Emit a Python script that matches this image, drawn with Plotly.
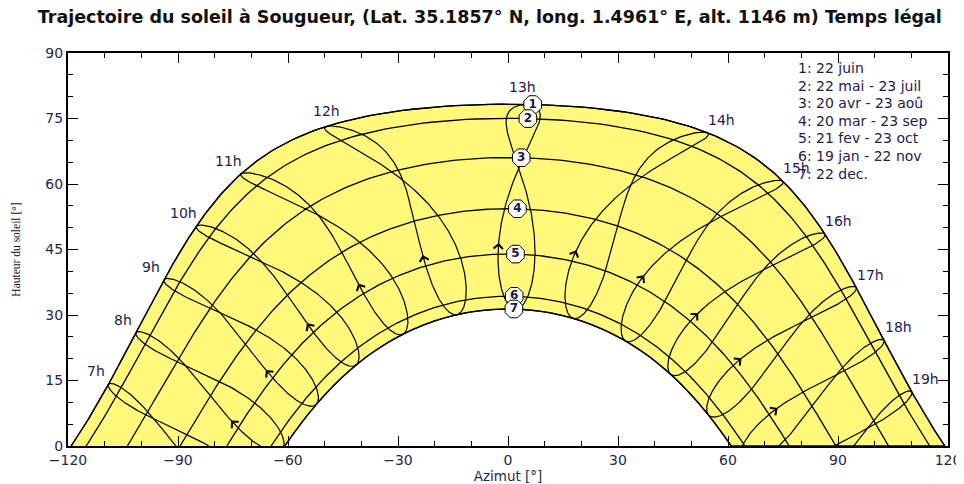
import numpy as np
import plotly.graph_objects as go

# ---- data ----
site_lat = 35.1857
site_lon = 1.4961
timezone = 1
title_text = "Trajectoire du soleil à Sougueur, (Lat. 35.1857° N, long. 1.4961° E, alt. 1146 m) Temps légal"
path_numbers = ["1", "2", "3", "4", "5", "6", "7"]
path_doys = [173, 142, 110, 79, 52, 19, 356]
path_legend = ["1: 22 juin", "2: 22 mai - 23 juil", "3: 20 avr - 23 aoû", "4: 20 mar - 23 sep",
               "5: 21 fev - 23 oct", "6: 19 jan - 22 nov", "7: 22 dec."]
hours = [7, 8, 9, 10, 11, 12, 13, 14, 15, 16, 17, 18, 19]
hour_labels = [f"{h}h" for h in hours]
summer_doy = 173
winter_doy = 356
arrow_doy = 59
marker_hour = 13
x_ticks = [-120, -90, -60, -30, 0, 30, 60, 90, 120]
y_ticks = [0, 15, 30, 45, 60, 75, 90]

phi = np.radians(site_lat)
FONT = "DejaVu Sans, Verdana, Arial"
TXT = "#24204a"


def decl_eot(doy, hr=12.0):
    g = 2 * np.pi / 365 * (np.asarray(doy, float) - 1 + (hr - 12) / 24)
    eot = 229.18 * (0.000075 + 0.001868 * np.cos(g) - 0.032077 * np.sin(g)
                    - 0.014615 * np.cos(2 * g) - 0.040849 * np.sin(2 * g))
    dec = (0.006918 - 0.399912 * np.cos(g) + 0.070257 * np.sin(g) - 0.006758 * np.cos(2 * g)
           + 0.000907 * np.sin(2 * g) - 0.002697 * np.cos(3 * g) + 0.00148 * np.sin(3 * g))
    return dec, eot


def az_alt(dec, ha):
    s = np.sin(phi) * np.sin(dec) + np.cos(phi) * np.cos(dec) * np.cos(ha)
    alt = np.degrees(np.arcsin(np.clip(s, -1, 1)))
    az = np.degrees(np.arctan2(np.sin(ha), np.cos(ha) * np.sin(phi) - np.tan(dec) * np.cos(phi)))
    return az, alt


def sun_at(doy, hr):
    dec, eot = decl_eot(doy, hr)
    tst = hr * 60 + eot + 4 * site_lon - 60 * timezone
    ha = np.radians(tst / 4 - 180)
    return az_alt(dec, ha)


def day_path(doy):
    dec, _ = decl_eot(doy)
    h0 = np.arccos(-np.tan(phi) * np.tan(dec))
    ha = np.linspace(-h0, h0, 300)
    return az_alt(dec, ha)


fig = go.Figure()

# yellow envelope between summer and winter paths
az_s, alt_s = day_path(summer_doy)
az_w, alt_w = day_path(winter_doy)
fig.add_trace(go.Scatter(x=np.concatenate([az_s, az_w[::-1]]), y=np.concatenate([alt_s, alt_w[::-1]]),
                         fill="toself", fillcolor="rgb(255,248,122)", line=dict(color="black", width=1.3),
                         mode="lines", hoverinfo="skip"))

# date paths
for doy in path_doys:
    az, alt = day_path(doy)
    fig.add_trace(go.Scatter(x=az, y=alt, mode="lines", line=dict(color="black", width=1.3), hoverinfo="skip"))

# hour lines (two branches) + arrows
annotations = []
for h in hours:
    dA = np.arange(winter_doy - 365, summer_doy + 1)
    dB = np.arange(summer_doy, winter_doy + 1)
    for d in (dA, dB):
        az, alt = sun_at(d, float(h))
        fig.add_trace(go.Scatter(x=az, y=alt, mode="lines", line=dict(color="black", width=1.2),
                                 hoverinfo="skip"))
    ax0, ay0 = sun_at(arrow_doy - 4, float(h))
    ax1, ay1 = sun_at(arrow_doy, float(h))
    if ay0 > 0.5:
        annotations.append(dict(x=float(ax1), y=float(ay1), ax=float(ax0), ay=float(ay0),
                                xref="x", yref="y", axref="x", ayref="y", text="",
                                showarrow=True, arrowhead=4, arrowsize=2.0, arrowwidth=0.9,
                                arrowcolor="black"))

# hour labels near the summer end of each hour line
for h, lab in zip(hours, hour_labels):
    az, alt = sun_at(summer_doy, float(h))
    if h < 12:
        xs, ys = -13, 13
    elif h == 12:
        xs, ys = 0, 15
    elif h == 13:
        xs, ys = -4, 17
    else:
        xs, ys = 14, 13
    annotations.append(dict(x=float(az), y=float(alt), xref="x", yref="y", text=lab, showarrow=False,
                            xanchor="center", yanchor="middle", xshift=xs, yshift=ys,
                            font=dict(family=FONT, size=14, color=TXT)))

# numbered markers on date paths
mk_x, mk_y = [], []
for doy in path_doys:
    dec, _ = decl_eot(doy)
    ha = np.radians((marker_hour - timezone + site_lon / 15 - 12) * 15)
    az, alt = az_alt(dec, ha)
    mk_x.append(float(az))
    mk_y.append(float(alt))
fig.add_trace(go.Scatter(x=mk_x, y=mk_y, mode="markers+text", text=[f"<b>{n}</b>" for n in path_numbers],
                         textposition="middle center",
                         marker=dict(symbol="octagon", size=19, color="white", line=dict(color="black", width=1)),
                         textfont=dict(family=FONT, size=12, color="#1a1a40"),
                         hoverinfo="skip"))

# legend text
for i, t in enumerate(path_legend):
    annotations.append(dict(x=0.827, y=0.962 - i * 0.0448, xref="paper", yref="paper", text=t,
                            showarrow=False, xanchor="left", yanchor="middle",
                            font=dict(family=FONT, size=14, color=TXT)))

axis_common = dict(showgrid=False, zeroline=False, showline=True, linecolor="black", linewidth=2,
                   mirror="ticks", ticks="inside", ticklen=10, tickwidth=1.3, tickcolor="black",
                   automargin=False,
                   tickfont=dict(family=FONT, size=14, color="#1f2a44"))

# the page body adds an 8 px offset, so the figure is sized and margined to land the plot
# area where the reference has it
fig.update_layout(
    width=956, height=476,
    margin=dict(l=60, r=16, t=45, b=38),
    plot_bgcolor="white", paper_bgcolor="white",
    showlegend=False,
    title=dict(text=title_text, x=0.504, xref="container", y=0.981, yref="container",
               xanchor="center", yanchor="middle",
               font=dict(family=FONT, size=17.5, color="#111111", weight="bold")),
    annotations=annotations,
    xaxis=dict(range=[-120, 120], tickvals=x_ticks, **axis_common,
               minor=dict(dtick=10, ticklen=5, ticks="inside", tickcolor="black", tickwidth=1.2),
               title=dict(text="Azimut [°]", font=dict(family=FONT, size=13.5, color="#1f2a44"), standoff=5)),
    yaxis=dict(range=[0, 90], tickvals=y_ticks, **axis_common,
               minor=dict(dtick=5, ticklen=5, ticks="inside", tickcolor="black", tickwidth=1.2),
               title=dict(text="Hauteur du soleil [°]",
                          font=dict(family="Liberation Serif, Times New Roman", size=11.5, color="#111111"),
                          standoff=22)),
)

fig.write_html("out.html")
